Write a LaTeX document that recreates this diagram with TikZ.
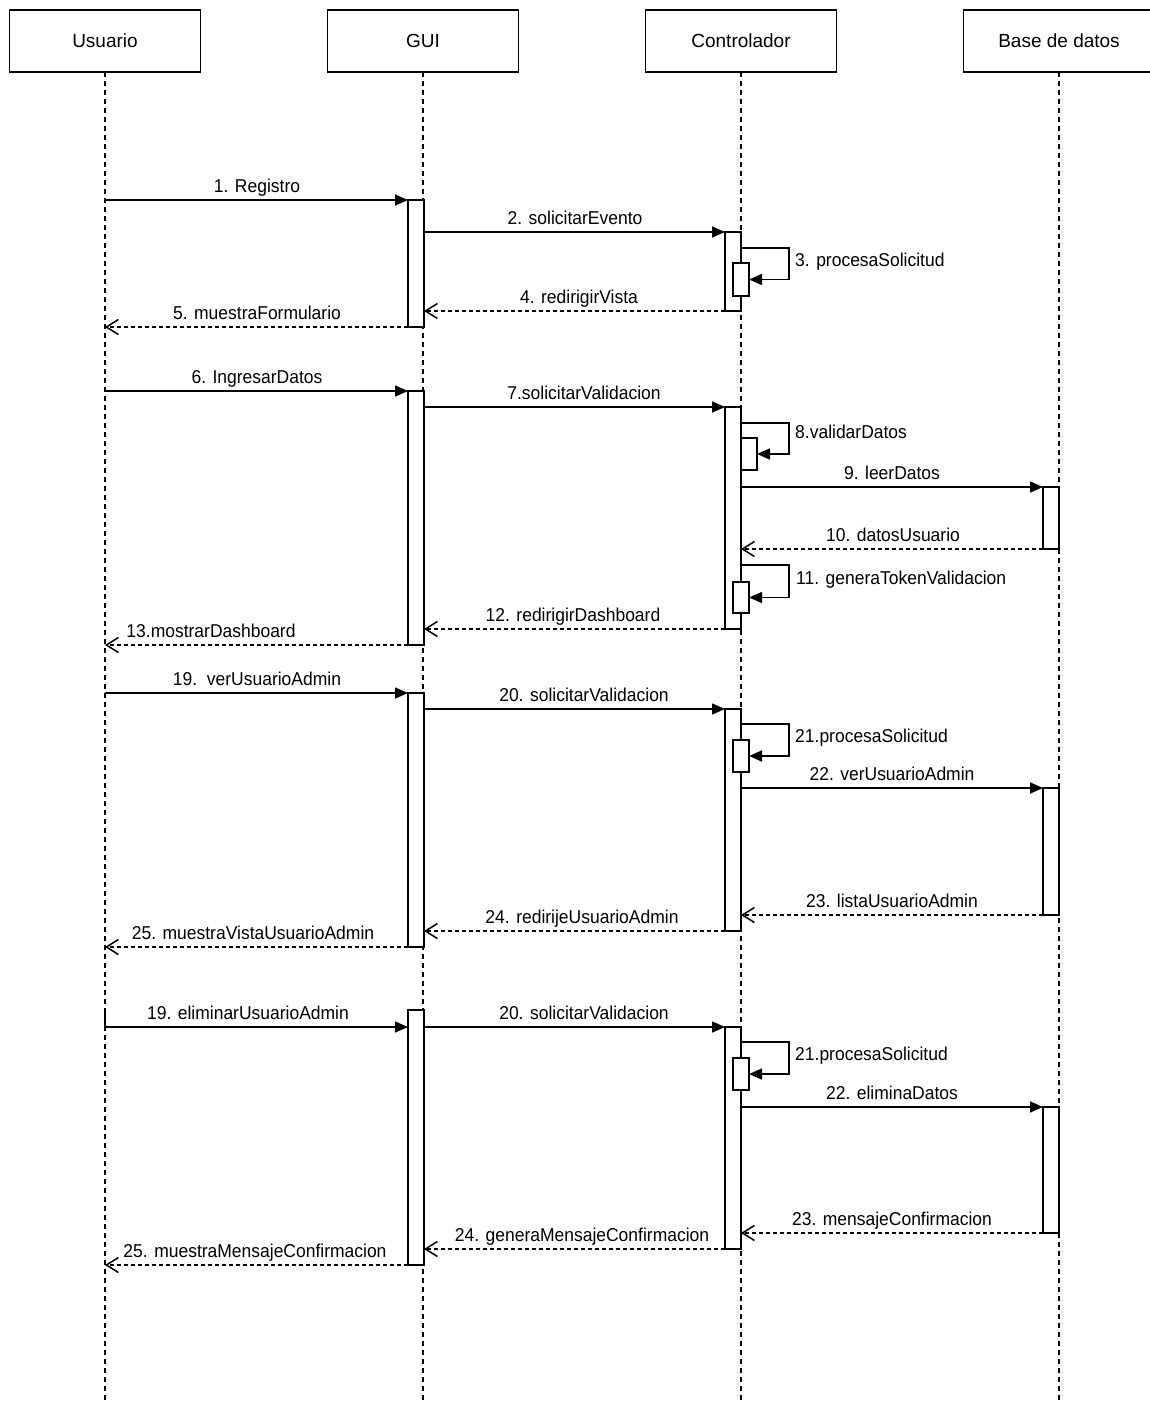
\documentclass[tikz,border=0pt]{standalone}
\usepackage{fontspec}
\setmainfont{Liberation Sans}
\newfontfamily\msgfont[FakeStretch=0.94]{Liberation Sans}
\usetikzlibrary{arrows.meta,calc}
\begin{document}
\begin{tikzpicture}[x=1pt,y=-1pt,
  actor/.style={draw, fill=white, line width=1.5pt, minimum width=191pt, minimum height=62pt,
    inner sep=0pt, outer sep=0pt, font=\fontsize{19}{22}\selectfont},
  lifeline/.style={line width=1.3pt, dash pattern=on 5pt off 4pt},
  bar/.style={draw, fill=white, line width=1.5pt, minimum width=16pt, inner sep=0pt,
    outer sep=0pt, anchor=north west},
  msg/.style={line width=1.6pt, -{Triangle[length=13pt,width=11pt]}},
  ret/.style={line width=1.5pt, dash pattern=on 4pt off 3pt,
    -{Straight Barb[length=12pt,width=15pt,line width=1.5pt]}},
  lbl/.style={anchor=base, inner sep=0pt, font=\msgfont\fontsize{18.6}{21}\selectfont},
  lbll/.style={lbl, anchor=base west},
]
\useasboundingbox (0,0) rectangle (1150,1402);
\coordinate (bottom) at (0,1402);

% participants and their lifelines
\node[actor] (hU) at (105,41) {Usuario};
\node[actor] (hG) at (423,41) {GUI};
\node[actor] (hC) at (741,41) {Controlador};
\node[actor] (hD) at (1059,41) {Base de datos};
\foreach \p in {hU,hG,hC,hD}
  \draw[lifeline] (\p.south) -- (\p.south |- bottom);

% ---- registro ----
\node[bar, minimum height=127pt] (g1) at (408,200) {};
\node[bar, minimum height=79pt]  (c1) at (725,232) {};
\node[bar, minimum height=33pt]  (s1) at (733,263) {};
\draw[msg] (hU.south |- g1.north) -- (g1.north west);
\draw[msg] (g1.east |- c1.north) -- (c1.north west);
\draw[msg] ([yshift=15pt]s1.north -| c1.east) -- ++(48,0) |- (s1.east);
\draw[ret] (c1.south west) -- (g1.east |- c1.south);
\draw[ret] (g1.south west) -- (hU.south |- g1.south);
\node[lbl]  (l1) at (257,192) {1. Registro};
\node[lbl]  (l2) at (575,224) {2. solicitarEvento};
\node[lbll] (l3) at (795,266) {3. procesaSolicitud};
\node[lbl]  (l4) at (579,303) {4. redirigirVista};
\node[lbl]  (l5) at (257,319) {5. muestraFormulario};

% ---- validacion ----
\node[bar, minimum height=254pt] (g2) at (408,391) {};
\node[bar, minimum height=222pt] (c2) at (725,407) {};
\node[bar, minimum height=32pt]  (s2) at (741,438) {};
\node[bar, minimum height=62pt]  (d1) at (1043,487) {};
\node[bar, minimum height=31pt]  (s3) at (733,582) {};
\draw[msg] (hU.south |- g2.north) -- (g2.north west);
\draw[msg] (g2.east |- c2.north) -- (c2.north west);
\draw[msg] ([yshift=15pt]s2.north -| c2.east) -- ++(48,0) |- (s2.east);
\draw[msg] (c2.east |- d1.north) -- (d1.north west);
\draw[ret] (d1.south west) -- (c2.east |- d1.south);
\draw[msg] ([yshift=17pt]s3.north -| c2.east) -- ++(48,0) |- (s3.east);
\draw[ret] (c2.south west) -- (g2.east |- c2.south);
\draw[ret] (g2.south west) -- (hU.south |- g2.south);
\node[lbl]  (l6)  at (257,383) {6. IngresarDatos};
\node[lbl]  (l7)  at (584,399) {7.solicitarValidacion};
\node[lbll] (l8)  at (795,438) {8.validarDatos};
\node[lbl]  (l9)  at (892,479) {9. leerDatos};
\node[lbl]  (l10) at (893,541) {10. datosUsuario};
\node[lbll] (l11) at (796,584) {11. generaTokenValidacion};
\node[lbl]  (l12) at (573,621) {12. redirigirDashboard};
\node[lbl]  (l13) at (211,637) {13.mostrarDashboard};

% ---- ver usuarios ----
\node[bar, minimum height=254pt] (g3) at (408,693) {};
\node[bar, minimum height=222pt] (c3) at (725,709) {};
\node[bar, minimum height=32pt]  (s4) at (733,740) {};
\node[bar, minimum height=127pt] (d2) at (1043,788) {};
\draw[msg] (hU.south |- g3.north) -- (g3.north west);
\draw[msg] (g3.east |- c3.north) -- (c3.north west);
\draw[msg] ([yshift=16pt]s4.north -| c3.east) -- ++(48,0) |- (s4.east);
\draw[msg] (c3.east |- d2.north) -- (d2.north west);
\draw[ret] (d2.south west) -- (c3.east |- d2.south);
\draw[ret] (c3.south west) -- (g3.east |- c3.south);
\draw[ret] (g3.south west) -- (hU.south |- g3.south);
\node[lbl]  (l19) at (257,685) {19.\ \ verUsuarioAdmin};
\node[lbl]  (l20) at (584,701) {20. solicitarValidacion};
\node[lbll] (l21) at (795,742) {21.procesaSolicitud};
\node[lbl]  (l22) at (892,780) {22. verUsuarioAdmin};
\node[lbl]  (l23) at (892,907) {23. listaUsuarioAdmin};
\node[lbl]  (l24) at (582,923) {24. redirijeUsuarioAdmin};
\node[lbl]  (l25) at (253,939) {25. muestraVistaUsuarioAdmin};

% ---- eliminar usuario ----
\node[bar, minimum height=255pt] (g4) at (408,1010) {};
\node[bar, minimum height=222pt] (c4) at (725,1027) {};
\node[bar, minimum height=32pt]  (s5) at (733,1058) {};
\node[bar, minimum height=126pt] (d3) at (1043,1107) {};
\draw[line width=1.5pt] (hU.south |- g4.north) -- (hU.south |- c4.north);
\draw[msg] (hU.south |- c4.north) -- (g4.west |- c4.north);
\draw[msg] (g4.east |- c4.north) -- (c4.north west);
\draw[msg] ([yshift=16pt]s5.north -| c4.east) -- ++(48,0) |- (s5.east);
\draw[msg] (c4.east |- d3.north) -- (d3.north west);
\draw[ret] (d3.south west) -- (c4.east |- d3.south);
\draw[ret] (c4.south west) -- (g4.east |- c4.south);
\draw[ret] (g4.south west) -- (hU.south |- g4.south);
\node[lbl]  (m19) at (248,1019) {19. eliminarUsuarioAdmin};
\node[lbl]  (m20) at (584,1019) {20. solicitarValidacion};
\node[lbll] (m21) at (795,1060) {21.procesaSolicitud};
\node[lbl]  (m22) at (892,1099) {22. eliminaDatos};
\node[lbl]  (m23) at (892,1225) {23. mensajeConfirmacion};
\node[lbl]  (m24) at (582,1241) {24. generaMensajeConfirmacion};
\node[lbl]  (m25) at (255,1257) {25. muestraMensajeConfirmacion};
\end{tikzpicture}
\end{document}
